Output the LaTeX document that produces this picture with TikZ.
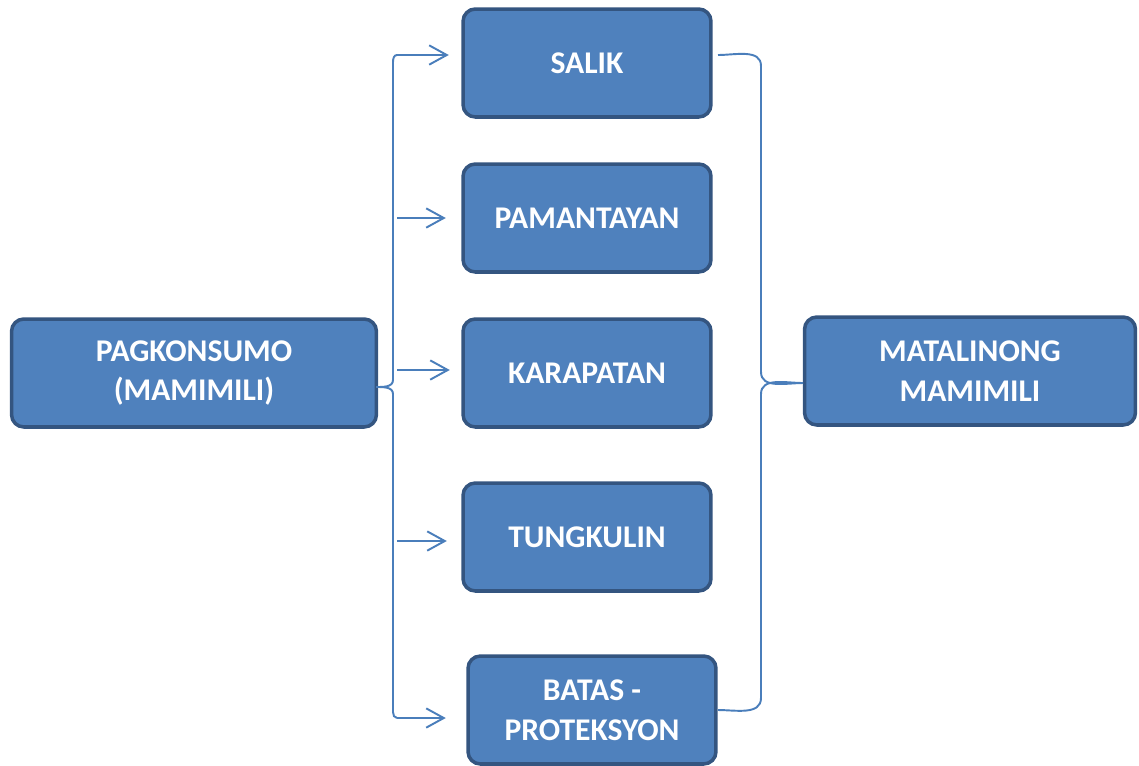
\documentclass[tikz,border=0pt]{standalone}
\usepackage{fontspec}
\setmainfont{Carlito}
\usetikzlibrary{arrows.meta}
\definecolor{boxFill}{RGB}{79,129,189}
\definecolor{boxEdge}{RGB}{52,85,128}
\definecolor{lineBlue}{RGB}{74,126,187}

\begin{document}
\begin{tikzpicture}[
  x=0.02cm, y=-0.02cm,
  every node/.style={font=\bfseries\fontsize{18}{22.5}\selectfont},
  item/.style={draw=boxEdge,fill=boxFill,text=white,line width=2pt,rounded corners=7pt,
    minimum width=4.96cm,minimum height=2.16cm,align=center,inner sep=2pt},
  arr/.style={-{Straight Barb[length=10pt,width=11pt]},draw=lineBlue,line width=1.1pt},
  brace/.style={draw=lineBlue,line width=1.1pt}
]
  \useasboundingbox (0,0) rectangle (1139,765);

  % middle column
  \node[item] (salik) at (587,63) {SALIK};
  \node[item] (pamantayan) at (587,218) {PAMANTAYAN};
  \node[item] (karapatan) at (587,373) {KARAPATAN};
  \node[item] (tungkulin) at (587,537) {TUNGKULIN};
  \node[item] (batas) at (592,710) {BATAS -\\PROTEKSYON};

  % outer boxes
  \node[item,minimum width=7.3cm] (pagkonsumo) at (194,373) {PAGKONSUMO\\(MAMIMILI)};
  \node[item,minimum width=6.62cm] (matalino) at (970,371) {MATALINONG\\MAMIMILI};

  % arrows into the middle column
  \foreach \n/\y/\g in {salik/55/14,pamantayan/218/17,karapatan/370/13,tungkulin/541/16,batas/718/22}
  {
    \coordinate (a-\n) at (397,\y);
    \draw[arr,shorten >=\g*0.02cm-0.03cm] (a-\n) -- (\n.west |- a-\n);
  }

  % left brace
  \coordinate (lb) at (376,387);
  \draw[brace] (a-salik) to[out=180,in=90] (393,62) -- (393,380)
    to[out=-90,in=0] (lb) to[out=0,in=90] (393,394) -- (393,712)
    to[out=-90,in=180] (a-batas);

  % right brace
  \coordinate (b-salik) at (718,55);
  \coordinate (b-batas) at (718,710);
  \coordinate (rb) at (803,383);
  \draw[brace] (b-salik) to[out=0,in=90] (761,66) -- (761,372)
    to[out=-90,in=180] (rb) to[out=180,in=90] (761,394) -- (761,698)
    to[out=-90,in=0] (b-batas);
\end{tikzpicture}
\end{document}
